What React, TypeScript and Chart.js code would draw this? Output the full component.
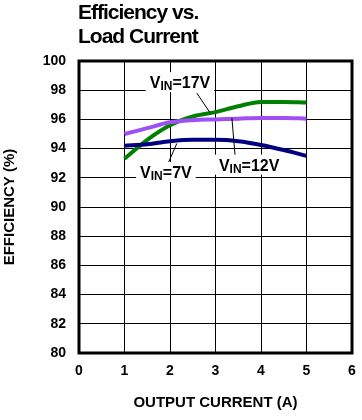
import React, { useEffect, useRef } from "react";
import { Chart, registerables } from "chart.js";

Chart.register(...registerables);

const currents = [1, 1.5, 2, 2.5, 3, 3.5, 4, 4.5, 5];
const eff17V = [93.3, 94.6, 95.6, 96.2, 96.5, 96.9, 97.2, 97.2, 97.15];
const eff7V = [95.0, 95.4, 95.8, 95.95, 96.0, 96.05, 96.1, 96.1, 96.05];
const eff12V = [94.2, 94.3, 94.5, 94.6, 94.6, 94.5, 94.25, 93.9, 93.5];
const xTicks = [0, 1, 2, 3, 4, 5, 6];
const yTicks = [80, 82, 84, 86, 88, 90, 92, 94, 96, 98, 100];
const titleLines = ["Efficiency vs.", "Load Current"];

const annotations = [
  { value: "=17V", cx: 2.22, cy: 98.55, x1: 2.59, y1: 97.8, x2: 2.88, y2: 96.45 },
  { value: "=7V", cx: 1.91, cy: 92.4, x1: 2.15, y1: 94.35, x2: 1.96, y2: 93.0 },
  { value: "=12V", cx: 3.74, cy: 92.9, x1: 3.36, y1: 96.1, x2: 3.43, y2: 93.55 },
];

const FONT = "'Liberation Sans', Arial, sans-serif";

const overlayPlugin = {
  id: "overlay",
  beforeDatasetsDraw(chart: any) {
    const { ctx, chartArea } = chart;
    ctx.save();
    ctx.strokeStyle = "#000";
    ctx.lineWidth = 3;
    ctx.strokeRect(chartArea.left, chartArea.top, chartArea.right - chartArea.left, chartArea.bottom - chartArea.top);
    ctx.restore();
  },
  afterDatasetsDraw(chart: any) {
    const { ctx, scales } = chart;
    const xs = scales.x;
    const ys = scales.y;
    ctx.save();
    ctx.fillStyle = "#000";
    ctx.font = `bold 21px ${FONT}`;
    (ctx as any).letterSpacing = "-1px";
    ctx.textBaseline = "alphabetic";
    ctx.textAlign = "left";
    ctx.fillText(titleLines[0], 78, 19);
    ctx.fillText(titleLines[1], 78, 43);
    (ctx as any).letterSpacing = "0px";
    for (const a of annotations) {
      ctx.strokeStyle = "#000";
      ctx.lineWidth = 1;
      ctx.beginPath();
      ctx.moveTo(xs.getPixelForValue(a.x1), ys.getPixelForValue(a.y1));
      ctx.lineTo(xs.getPixelForValue(a.x2), ys.getPixelForValue(a.y2));
      ctx.stroke();
      const big = `bold 16px ${FONT}`;
      const small = `bold 12px ${FONT}`;
      ctx.font = big;
      const wV = ctx.measureText("V").width;
      const wRest = ctx.measureText(a.value).width;
      ctx.font = small;
      const wIn = ctx.measureText("IN").width;
      const total = wV + wIn + wRest;
      const cx = xs.getPixelForValue(a.cx);
      const cy = ys.getPixelForValue(a.cy);
      const left = cx - total / 2;
      const base = cy + 6;
      ctx.fillStyle = "#fff";
      ctx.fillRect(left - 4, cy - 10, total + 8, 20);
      ctx.fillStyle = "#000";
      ctx.font = big;
      ctx.fillText("V", left, base);
      ctx.font = small;
      ctx.fillText("IN", left + wV, base + 2);
      ctx.font = big;
      ctx.fillText(a.value, left + wV + wIn, base);
    }
    ctx.restore();
  },
};

export default function App() {
  const ref = useRef<HTMLCanvasElement | null>(null);
  useEffect(() => {
    if (!ref.current) return;
    const chart = new Chart(ref.current, {
      type: "line",
      data: {
        labels: currents,
        datasets: [
          { label: "VIN=12V", data: currents.map((x, i) => ({ x, y: eff12V[i] })), borderColor: "#000080", borderWidth: 4, pointRadius: 0, tension: 0.4, cubicInterpolationMode: "monotone" },
          { label: "VIN=7V", data: currents.map((x, i) => ({ x, y: eff7V[i] })), borderColor: "#9f4ff5", borderWidth: 4, pointRadius: 0, tension: 0.4, cubicInterpolationMode: "monotone" },
          { label: "VIN=17V", data: currents.map((x, i) => ({ x, y: eff17V[i] })), borderColor: "#008000", borderWidth: 4, pointRadius: 0, tension: 0.4, cubicInterpolationMode: "monotone" },
        ],
      } as any,
      options: {
        responsive: false,
        animation: false,
        devicePixelRatio: 1,
        layout: { padding: { top: 61, right: 10, left: 0, bottom: 0 } },
        plugins: { legend: { display: false }, tooltip: { enabled: false }, title: { display: false } },
        scales: {
          x: {
            type: "linear",
            min: 0,
            max: 6,
            afterFit: (s: any) => { s.height = 67; s.paddingLeft = 0; s.paddingRight = 0; },
            afterBuildTicks: (s: any) => { s.ticks = xTicks.map((v) => ({ value: v })); },
            grid: { color: "#000", lineWidth: 1, drawTicks: false },
            border: { display: false },
            ticks: { color: "#000", font: { family: FONT, size: 14, weight: "bold" }, padding: 10, maxRotation: 0 },
            title: { display: true, text: "OUTPUT CURRENT (A)", color: "#000", font: { family: FONT, size: 15, weight: "bold" }, padding: { top: 0, bottom: 8 } },
          },
          y: {
            min: 80,
            max: 100,
            afterFit: (s: any) => { s.width = 79; s.paddingTop = 0; s.paddingBottom = 0; },
            afterBuildTicks: (s: any) => { s.ticks = yTicks.map((v) => ({ value: v })); },
            grid: { color: "#000", lineWidth: 1, drawTicks: false },
            border: { display: false },
            ticks: { color: "#000", font: { family: FONT, size: 14, weight: "bold" }, padding: 13 },
            title: { display: true, text: "EFFICIENCY (%)", color: "#000", font: { family: FONT, size: 15, weight: "bold" }, padding: { top: 1, bottom: 0 } },
          },
        },
      } as any,
      plugins: [overlayPlugin],
    });
    return () => chart.destroy();
  }, []);
  return (
    <div style={{ position: "fixed", left: 0, top: 0, width: 362, height: 420, background: "#fff" }}>
      <canvas ref={ref} width={362} height={420} style={{ display: "block", width: 362, height: 420 }} />
    </div>
  );
}
